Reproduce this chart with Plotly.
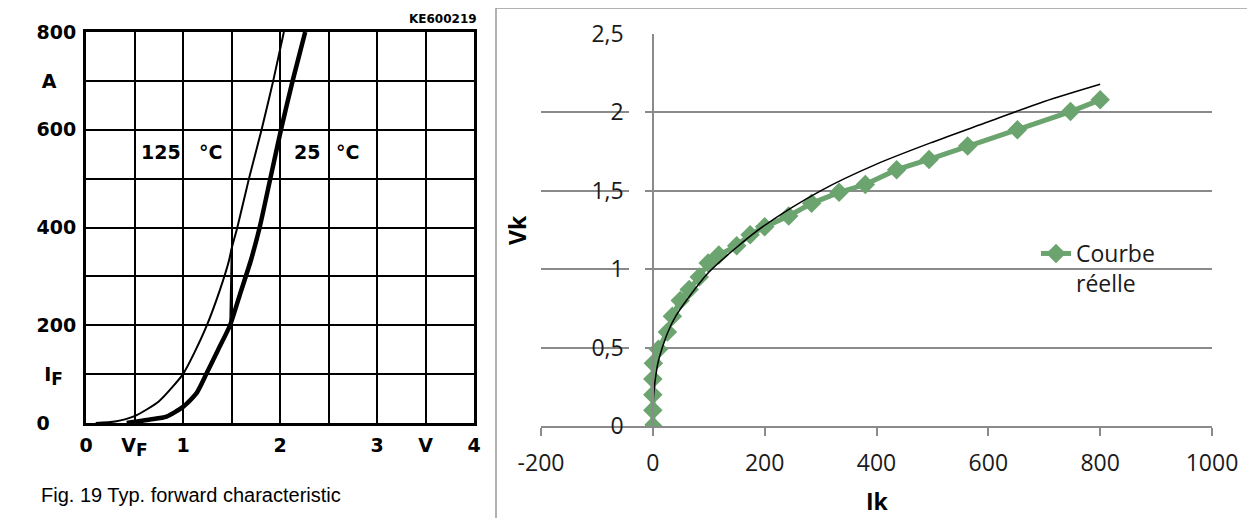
import plotly.graph_objects as go

# ---------------- Left panel: datasheet forward characteristic ----------------
vf_25c = [0.42, 0.66, 0.83, 1.00, 1.14, 1.24, 1.36, 1.485, 1.59, 1.70, 1.79, 1.90, 2.01, 2.13, 2.26]
if_25c = [0, 7, 13, 33, 61, 100, 149, 200, 265, 333, 400, 500, 600, 700, 800]

vf_125c = [0.10, 0.30, 0.50, 0.75, 1.00, 1.12, 1.24, 1.38, 1.475, 1.50, 1.56, 1.68, 1.81, 1.93, 2.04]
if_125c = [0, 3, 14, 44, 100, 145, 197, 272, 333, 356, 400, 500, 600, 700, 800]

vf_spur = [1.50, 1.495, 1.485]
if_spur = [356, 280, 205]

sub_f = '<sub><span style="font-size:17px">F</span></sub>'
left_xticks = [0, 0.5, 1, 1.5, 2, 2.5, 3, 3.5, 4]
left_xtext = ["0", "V" + sub_f, "1", "", "2", "", "3", "V", "4"]
left_yticks = [0, 100, 200, 300, 400, 500, 600, 700, 800]
left_ytext = ["0&nbsp;&nbsp;&nbsp;&nbsp;", "I" + sub_f + "&nbsp;&nbsp;", "200", "", "400", "",
              "600", "A&nbsp;&nbsp;&nbsp;", "800"]

# ---------------- Right panel: Excel chart Vk vs Ik ----------------
ik_mesure = [0, 0, 0, 0, 1, 10, 26, 35, 49, 65, 83, 99, 118, 150, 174, 200, 243, 284,
             333, 380, 436, 494, 563, 652, 747, 800]
vk_mesure = [0, 0.1, 0.2, 0.3, 0.4, 0.49, 0.6, 0.7, 0.8, 0.87, 0.95, 1.04, 1.09, 1.15,
             1.22, 1.27, 1.34, 1.42, 1.49, 1.54, 1.635, 1.70, 1.785, 1.89, 2.005, 2.08]

ik_fit = [0, 0.3, 1.5, 4.5, 9, 16, 27, 41, 60, 100, 150, 200, 300, 400, 500, 600, 700, 800]
vk_fit = [0, 0.1, 0.2, 0.3, 0.4, 0.49, 0.6, 0.7, 0.8, 0.98, 1.14, 1.28, 1.50, 1.67, 1.81,
          1.94, 2.07, 2.18]

right_yticks = [0, 0.5, 1, 1.5, 2, 2.5]
right_ytext = ["0", "0,5", "1", "1,5", "2", "2,5"]
right_xticks = [-200, 0, 200, 400, 600, 800, 1000]
right_xtext = ["-200", "0", "200", "400", "600", "800", "1000"]

# page body has an 8px margin: figure is placed at (8, 8) in the window
OFF = 8
W, H = 1255 - OFF, 518 - OFF
def px(x):
    return (x - OFF) / W
def py(y):
    return (H - (y - OFF)) / H

fig = go.Figure()

fig.add_trace(go.Scatter(x=vf_125c, y=if_125c, mode="lines", xaxis="x", yaxis="y",
                         line=dict(color="black", width=2, shape="spline", smoothing=0.6),
                         showlegend=False, hoverinfo="skip"))
fig.add_trace(go.Scatter(x=vf_spur, y=if_spur, mode="lines", xaxis="x", yaxis="y",
                         line=dict(color="black", width=1.5),
                         showlegend=False, hoverinfo="skip"))
fig.add_trace(go.Scatter(x=vf_25c, y=if_25c, mode="lines", xaxis="x", yaxis="y",
                         line=dict(color="black", width=4.5, shape="spline", smoothing=0.6),
                         showlegend=False, hoverinfo="skip"))

green = "#6BA46F"
fig.add_trace(go.Scatter(x=ik_mesure, y=vk_mesure, mode="lines+markers", xaxis="x2", yaxis="y2",
                         name="Courbe<br>réelle",
                         line=dict(color=green, width=5),
                         marker=dict(symbol="diamond", size=15, color=green)))
fig.add_trace(go.Scatter(x=ik_fit, y=vk_fit, mode="lines", xaxis="x2", yaxis="y2",
                         line=dict(color="black", width=1.5, shape="spline", smoothing=0.8),
                         showlegend=False, hoverinfo="skip"))

left_font = dict(family="DejaVu Sans", size=19, color="black", weight="bold")
excel_font = dict(family="Open Sans", size=23, color="#1a1a1a")
grid_grey = "#8a8a8a"

fig.update_layout(
    template="none",
    width=W, height=H,
    margin=dict(l=0, r=0, t=0, b=0, pad=0, autoexpand=False),
    paper_bgcolor="white", plot_bgcolor="white",
    xaxis=dict(domain=[px(86), px(474)], range=[0, 4], anchor="y", automargin=False,
               tickvals=left_xticks, ticktext=left_xtext, tickfont=left_font,
               showgrid=True, gridcolor="black", gridwidth=2,
               showline=True, linecolor="black", linewidth=3, mirror=True,
               zeroline=False, ticks="", ticklabelstandoff=3, fixedrange=True),
    yaxis=dict(domain=[py(423), py(32)], range=[0, 800], anchor="x", automargin=False,
               tickvals=left_yticks, ticktext=left_ytext, tickfont=left_font,
               showgrid=True, gridcolor="black", gridwidth=2,
               showline=True, linecolor="black", linewidth=3, mirror=True,
               zeroline=False, ticks="", ticklabelstandoff=3, fixedrange=True),
    xaxis2=dict(domain=[px(541), px(1212)], range=[-200, 1000], anchor="y2", automargin=False,
                tickvals=right_xticks, ticktext=right_xtext, tickfont=excel_font,
                showgrid=False, zeroline=False,
                showline=True, linecolor=grid_grey, linewidth=1.5,
                ticks="outside", ticklen=8, tickcolor=grid_grey, tickwidth=1.5,
                ticklabelstandoff=8, fixedrange=True),
    yaxis2=dict(domain=[py(426), py(34)], range=[0, 2.5], anchor="free", automargin=False,
                position=px(653),
                tickvals=right_yticks, ticktext=right_ytext, tickfont=excel_font,
                showgrid=True, gridcolor=grid_grey, gridwidth=1.5,
                zeroline=False, showline=True, linecolor=grid_grey, linewidth=1.5,
                ticks="", ticklabelstandoff=24, fixedrange=True),
    legend=dict(x=px(1036), y=py(232), xanchor="left", yanchor="top",
                valign="top", bgcolor="rgba(0,0,0,0)", borderwidth=0,
                font=dict(family="Open Sans", size=23, color="#1a1a1a")),
    showlegend=True,
)

# small gaps in the horizontal gridlines next to the y tick labels (Excel look)
for v in right_yticks:
    fig.add_shape(type="line", xref="paper", yref="y2", x0=px(629), x1=px(645), y0=v, y1=v,
                  line=dict(color="white", width=3), layer="above")

# panel border of the right chart
fig.add_shape(type="line", xref="paper", yref="paper", x0=px(496), y0=py(8), x1=1, y1=py(8),
              line=dict(color="#9a9a9a", width=1.5))
fig.add_shape(type="line", xref="paper", yref="paper", x0=px(496), y0=py(8), x1=px(496), y1=0,
              line=dict(color="#9a9a9a", width=1.5))

annos = [
    dict(text="KE600219", x=px(479), y=py(19), xanchor="right", yanchor="middle",
         font=dict(family="DejaVu Sans", size=12, color="black", weight="bold")),
    dict(text="125", x=px(161), y=py(152), xanchor="center", yanchor="middle", font=left_font),
    dict(text="°C", x=px(210), y=py(152), xanchor="center", yanchor="middle", font=left_font),
    dict(text="25", x=px(307), y=py(152), xanchor="center", yanchor="middle", font=left_font),
    dict(text="°C", x=px(347), y=py(152), xanchor="center", yanchor="middle", font=left_font),
    dict(text="Fig. 19 Typ. forward characteristic", x=px(39), y=py(495), xanchor="left",
         yanchor="middle", font=dict(family="Liberation Sans", size=20, color="black")),
    dict(text="<b>Vk</b>", x=px(517), y=py(230), xanchor="center", yanchor="middle", textangle=-90,
         font=dict(family="Open Sans", size=23, color="black")),
    dict(text="<b>Ik</b>", x=px(877), y=py(501), xanchor="center", yanchor="middle",
         font=dict(family="Open Sans", size=23, color="black")),
]
for a in annos:
    fig.add_annotation(xref="paper", yref="paper", showarrow=False, **a)

fig.write_html("out.html")
